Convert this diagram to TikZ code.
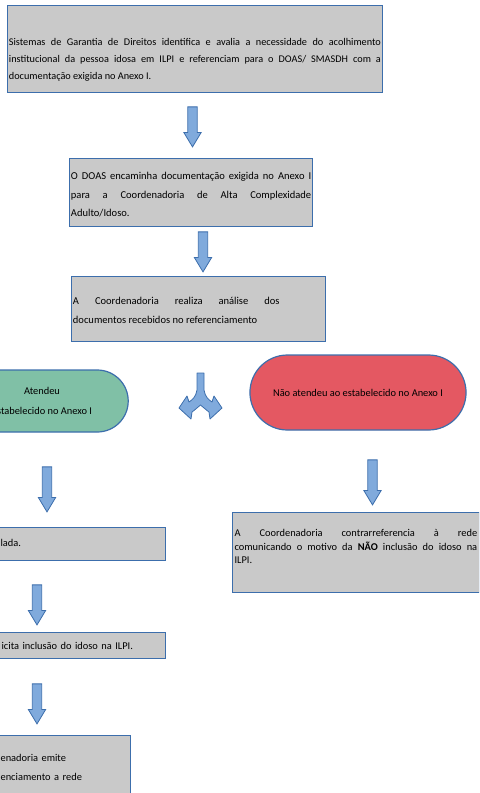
\documentclass[tikz,border=0pt]{standalone}
\usepackage{fontspec}
\setmainfont{Carlito}
\usetikzlibrary{shapes.misc,shapes.arrows,positioning}
\definecolor{boxgray}{RGB}{201,201,201}
\definecolor{boxblue}{RGB}{60,110,172}
\definecolor{arrowblue}{RGB}{128,170,220}
\definecolor{okgreen}{RGB}{128,192,166}
\definecolor{nored}{RGB}{228,88,98}
\tikzset{
  stepbox/.style={draw=boxblue, fill=boxgray, line width=0.9pt, inner ysep=0pt,
    inner xsep=1pt, align=justify, anchor=north west},
  pill/.style={rounded rectangle, draw=boxblue, line width=0.9pt, align=center,
    font=\fontsize{7.8}{15}\selectfont},
  blkarrow/.style={single arrow, draw=boxblue, fill=arrowblue, line width=0.6pt,
    shape border rotate=270, inner sep=3.2pt, minimum width=12.75pt,
    single arrow head extend=3pt, single arrow tip angle=62}
}

\begin{document}
\begin{tikzpicture}[x=0.75pt, y=-0.75pt]
  \useasboundingbox (0,0) rectangle (479,793);
  \clip (0,0) rectangle (479,793);

  % main column
  \node[stepbox, text width=279pt, text height=30pt, text depth=35.25pt,
    font=\fontsize{7.7}{12.75}\selectfont] (sgd) at (7,5)
    {Sistemas de Garantia de Direitos identifica e avalia a necessidade do acolhimento\linebreak
     institucional da pessoa idosa em ILPI e referenciam para o DOAS/ SMASDH com a\linebreak
     documentação exigida no Anexo I.};
  \node[blkarrow, minimum height=30pt] (a1) at (192.5,123) {};

  \node[stepbox, text width=180.25pt, text height=15.75pt, text depth=35.25pt,
    font=\fontsize{7.9}{13.9}\selectfont] (doas) at (69,158)
    {O DOAS encaminha documentação exigida no Anexo I\linebreak
     para a Coordenadoria de Alta Complexidade\linebreak
     Adulto/Idoso.};
  \node[blkarrow, minimum height=30pt] (a2) at (203,248) {};

  \node[stepbox, text width=188.5pt, text height=21pt, text depth=27.75pt,
    font=\fontsize{7.9}{14.25}\selectfont] (analise) at (71,276)
    {\parbox[t]{155pt}{A Coordenadoria realiza análise dos\linebreak
     documentos recebidos no referenciamento}\hfill\null};

  % decision
  \node[pill, fill=okgreen, minimum width=136pt, minimum height=46.5pt] (atendeu)
    at (42,401) {Atendeu\\estabelecido no Anexo I};
  \node[pill, fill=nored, minimum width=168.75pt, minimum height=56.25pt] (naoatendeu)
    at (358,392.5) {Não atendeu ao estabelecido no Anexo I};
  \draw[boxblue, fill=arrowblue, line width=0.6pt, line join=round]
    (197,373) -- (204,373) -- (204,390)
    .. controls (205,397) and (209,400) .. (212,402) -- (214,396) -- (222,408)
    -- (210,419) -- (209,412)
    .. controls (205,409) and (203,407) .. (200.5,405)
    .. controls (198,407) and (196,409) .. (192,412) -- (191,419) -- (179,408)
    -- (187,396) -- (189,402)
    .. controls (192,400) and (196,397) .. (197,390) -- cycle;

  % left branch
  \node[blkarrow, minimum height=33.75pt] (al1) at (47,485.5) {};
  \node[stepbox, text width=121.5pt, inner xsep=2.25pt, text height=14.25pt,
    text depth=10.5pt, align=left, font=\fontsize{7.8}{13}\selectfont] (vaga)
    at (-3,527) {lada.};
  \node[blkarrow, minimum height=30pt] (al2) at (37,601) {};
  \node[stepbox, text width=120.75pt, inner xsep=2.25pt, text height=12.75pt,
    text depth=6.75pt, align=left, font=\fontsize{7.8}{13}\selectfont] (solicita)
    at (-2,632) {icita inclusão do idoso na ILPI.};
  \node[blkarrow, minimum height=30pt] (al3) at (37,700) {};
  \node[stepbox, text width=95.25pt, inner xsep=2.25pt, text height=19.5pt,
    text depth=29.25pt, align=left, font=\fontsize{7.8}{14.25}\selectfont] (emite)
    at (-3,735) {enadoria emite\\enciamento a rede};

  % right branch
  \node[blkarrow, minimum height=33.75pt] (ar1) at (372.5,478.5) {};
  \node[stepbox, text width=182pt, inner xsep=1.5pt, text height=18pt,
    text depth=42pt, font=\fontsize{7.8}{10.1}\selectfont] (contra) at (232,512)
    {A Coordenadoria contrarreferencia à rede\linebreak
     comunicando o motivo da \textbf{NÃO} inclusão do idoso na\linebreak
     ILPI.};
\end{tikzpicture}
\end{document}
